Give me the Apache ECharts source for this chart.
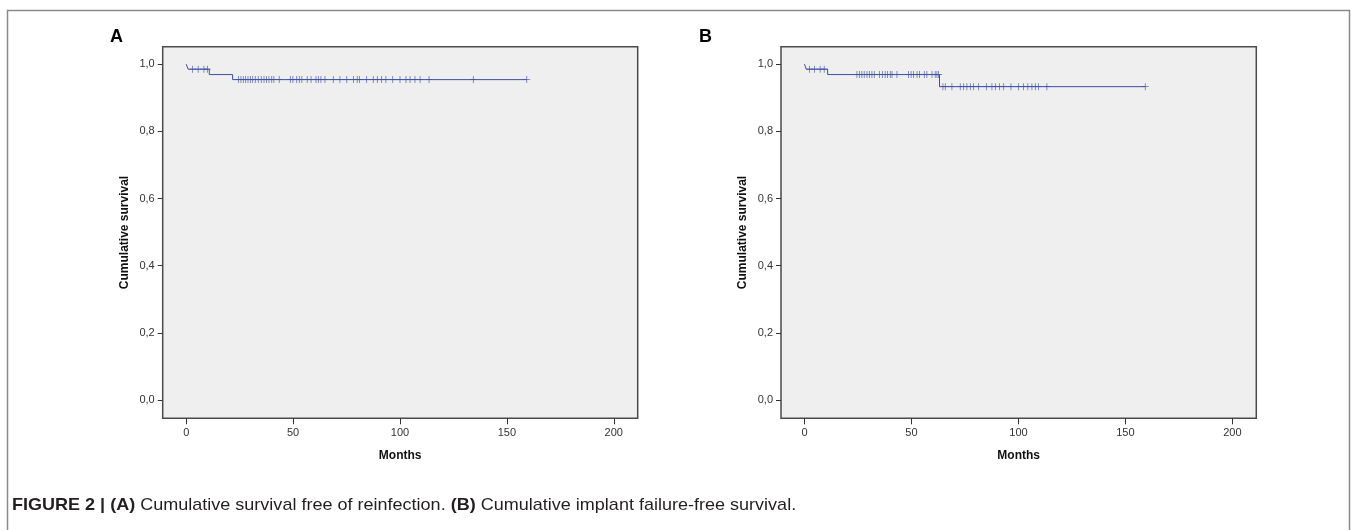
<!DOCTYPE html>
<html>
<head>
<meta charset="utf-8">
<script src="https://cdn.jsdelivr.net/npm/echarts@6/dist/echarts.min.js"></script>
<style>
html,body{margin:0;padding:0;background:#fff;}
#chart{width:1358px;height:530px;}
</style>
</head>
<body>
<div id="chart"></div>
<script>
// ---- data ----
const xTicks = [0, 50, 100, 150, 200];
const yTicks = [0, 0.2, 0.4, 0.6, 0.8, 1.0];

// Panel A: cumulative survival free of reinfection
const eventTimesA = [0, 0.9, 10.8, 21.7];
const survA = [1.0, 0.985, 0.969, 0.954];
const censorA = [3, 5.6, 8.3, 9.9, 24.5, 25.6, 26.7, 27.8, 28.9, 30.0, 31.1, 32.3, 33.7, 35.1, 36.4, 37.6, 38.7, 40.0, 41.0, 43.5, 48.7, 49.9, 51.7, 52.9, 54.1, 56.6, 58.4, 60.7, 61.8, 63.0, 64.9, 68.8, 71.9, 75.1, 78.2, 80.0, 81.0, 84.4, 87.5, 89.4, 91.4, 93.4, 96.6, 100.0, 102.8, 104.7, 107.0, 109.4, 113.6, 134.3, 159.3];

// Panel B: cumulative implant failure-free survival
const eventTimesB = [0, 0.8, 10.8, 63.1];
const survB = [1.0, 0.985, 0.969, 0.933];
const censorB = [2.3, 4.7, 7.3, 9.2, 24.5, 25.7, 26.8, 27.9, 29.2, 30.3, 31.5, 32.6, 35.1, 36.5, 37.7, 38.8, 40.1, 40.9, 43.2, 48.6, 49.8, 51.0, 52.6, 53.8, 56.0, 57.2, 59.6, 61.1, 61.9, 62.7, 64.7, 65.8, 68.9, 72.8, 74.4, 75.9, 77.5, 79.0, 81.4, 85.0, 87.6, 89.2, 91.2, 93.1, 96.5, 100.1, 102.4, 104.4, 106.3, 107.9, 109.4, 113.3, 159.3];

const panelLabels = ['A', 'B'];
const xName = 'Months';
const yName = 'Cumulative survival';

// ---- helpers ----
function survAt(times, surv, t) {
  let s = surv[0];
  for (let i = 0; i < times.length; i++) if (times[i] <= t) s = surv[i];
  return s;
}
function curve(times, surv, censors) {
  const pts = times.map((t, i) => [t, surv[i]]);
  const last = censors[censors.length - 1];
  pts.push([last, survAt(times, surv, last)]);
  return pts;
}
function marks(times, surv, censors) {
  return censors.map(t => [t, survAt(times, surv, t)]);
}

const LINE = '#3d4fa5';
const FONT = '"Liberation Sans", Arial, sans-serif';
const crossPath = 'path://M4,0 L5,0 L5,4 L9,4 L9,5 L5,5 L5,9 L4,9 L4,5 L0,5 L0,4 L4,4 Z';

const grids = [
  {left: 162.7, top: 46.7, width: 475, height: 371.6},
  {left: 781, top: 46.7, width: 475.3, height: 371.6}
];

function xAxis(i) {
  return {
    type: 'value', gridIndex: i, min: -11, max: 211.2, position: 'bottom',
    name: xName, nameLocation: 'middle', nameGap: 31,
    nameTextStyle: {fontFamily: FONT, fontWeight: 'bold', fontSize: 12, color: '#111'},
    axisLine: {show: false, onZero: false},
    splitLine: {show: false},
    axisTick: {show: true, inside: false, customValues: xTicks, length: 6, lineStyle: {color: '#333', width: 1}},
    axisLabel: {customValues: xTicks, margin: 9, fontFamily: FONT, fontSize: 11, color: '#333'}
  };
}
function yAxis(i) {
  return {
    type: 'value', gridIndex: i, min: -0.0545, max: 1.052, position: 'left',
    name: yName, nameLocation: 'middle', nameGap: 32,
    nameTextStyle: {fontFamily: FONT, fontWeight: 'bold', fontSize: 12, color: '#111'},
    axisLine: {show: false, onZero: false},
    splitLine: {show: false},
    axisTick: {show: true, inside: false, customValues: yTicks, length: 5, lineStyle: {color: '#333', width: 1}},
    axisLabel: {customValues: yTicks, margin: 8, fontFamily: FONT, fontSize: 11, color: '#333',
      formatter: v => v.toFixed(1).replace('.', ',')}
  };
}

const datasets = [
  {times: eventTimesA, surv: survA, cens: censorA},
  {times: eventTimesB, surv: survB, cens: censorB}
];

const series = [];
datasets.forEach((d, i) => {
  series.push({
    type: 'line', xAxisIndex: i, yAxisIndex: i, step: 'end', symbol: 'none',
    data: curve(d.times, d.surv, d.cens),
    lineStyle: {color: LINE, width: 1}, animation: false, silent: true
  });
  series.push({
    type: 'scatter', xAxisIndex: i, yAxisIndex: i,
    symbol: crossPath, symbolSize: 7,
    data: marks(d.times, d.surv, d.cens),
    itemStyle: {color: LINE}, animation: false, silent: true
  });
});

const chart = echarts.init(document.getElementById('chart'), null, {renderer: 'canvas'});
chart.setOption({
  animation: false,
  backgroundColor: '#fff',
  grid: grids.map(g => Object.assign({show: true, backgroundColor: '#efefef', borderColor: '#4a4a4a', borderWidth: 1.5}, g)),
  xAxis: [xAxis(0), xAxis(1)],
  yAxis: [yAxis(0), yAxis(1)],
  series: series,
  graphic: [
    {type: 'rect', shape: {x: 7.5, y: 10.5, width: 1342, height: 540}, style: {fill: 'none', stroke: '#8a8a8a', lineWidth: 1.5}, silent: true},
    {type: 'text', left: 110, top: 28, style: {text: panelLabels[0], font: 'bold 18px ' + FONT, fill: '#000'}},
    {type: 'text', left: 699, top: 28, style: {text: panelLabels[1], font: 'bold 18px ' + FONT, fill: '#000'}},
    {type: 'text', x: 12, y: 505, scaleX: 1.06, style: {
      text: '{b|FIGURE 2 | (A)} Cumulative survival free of reinfection. {b|(B)} Cumulative implant failure-free survival.',
      font: '17px ' + FONT, fill: '#231f20', verticalAlign: 'middle',
      rich: {b: {fontWeight: 'bold', fontSize: 17, fontFamily: FONT, fill: '#231f20'}}
    }}
  ]
});
</script>
</body>
</html>
